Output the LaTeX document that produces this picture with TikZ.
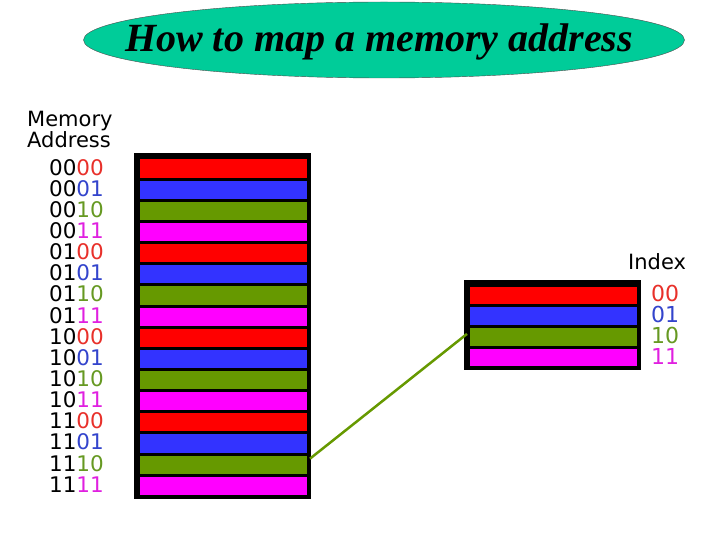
\documentclass[tikz,border=0pt]{standalone}
\usetikzlibrary{shapes.geometric}
\usepackage{fontspec}
\setmainfont{Liberation Serif}
\newfontfamily\lblfont{DejaVu Sans}
\definecolor{cred}{HTML}{FF0000}
\definecolor{cblue}{HTML}{3333FF}
\definecolor{cgreen}{HTML}{669900}
\definecolor{cmag}{HTML}{FF00FF}
\definecolor{tred}{HTML}{E8302A}
\definecolor{tblue}{HTML}{3344CC}
\definecolor{tgreen}{HTML}{669922}
\definecolor{tmag}{HTML}{E020E0}
\definecolor{teal}{HTML}{00CC99}
\begin{document}
\begin{tikzpicture}[x=1pt,y=-1pt,
  bar/.style={draw=black,line width=3pt,minimum width=170pt,minimum height=21.1pt,inner sep=0pt,anchor=north west},
  addr/.style={font=\lblfont\fontsize{21.5}{21.5}\selectfont,anchor=east,inner sep=0pt},
  idx/.style={font=\lblfont\fontsize{22}{22}\selectfont,anchor=west,inner sep=0pt},
  hdr/.style={font=\lblfont\fontsize{21}{19.5}\selectfont,inner sep=0pt,align=left}]
\useasboundingbox (0,0) rectangle (720,540);
\node[ellipse,draw=black!70,fill=teal,minimum width=601pt,minimum height=76pt,inner sep=0pt] (title) at (384,40) {};
\node[font=\fontsize{40}{40}\selectfont\bfseries\itshape] (tt) at (379,42) {How to map a memory address};
\node[hdr,anchor=north west] (mh) at (27,111) {Memory\\Address};
\foreach \i/\c/\hi/\lo/\tc in {0/cred/00/00/tred,1/cblue/00/01/tblue,2/cgreen/00/10/tgreen,3/cmag/00/11/tmag,
  4/cred/01/00/tred,5/cblue/01/01/tblue,6/cgreen/01/10/tgreen,7/cmag/01/11/tmag,
  8/cred/10/00/tred,9/cblue/10/01/tblue,10/cgreen/10/10/tgreen,11/cmag/10/11/tmag,
  12/cred/11/00/tred,13/cblue/11/01/tblue,14/cgreen/11/10/tgreen,15/cmag/11/11/tmag}{
  \node[bar,fill=\c] (r\i) at (137,{156.5+21.15*\i}) {};
  \node[addr] (a\i) at (104,{167.2+21.15*\i}) {\textcolor{black}{\hi}\textcolor{\tc}{\lo}};
}
\draw[line width=4pt] (135.5,155) rectangle (308.5,497);
\node[hdr,anchor=north west] (ih) at (628,253) {Index};
\foreach \i/\c/\lb/\tc in {0/cred/00/tred,1/cblue/01/tblue,2/cgreen/10/tgreen,3/cmag/11/tmag}{
  \node[bar,fill=\c,minimum height=20.6pt] (b\i) at (467,{283.5+20.8*\i}) {};
  \node[idx,text=\tc] (l\i) at (651,{293.5+21*\i}) {\lb};
}
\draw[line width=4pt] (465.5,282) rectangle (638.5,368);
\draw[cgreen,line width=2.5pt] ([yshift=6pt]r14.east) -- ([yshift=3pt]b2.west);
\end{tikzpicture}
\end{document}
